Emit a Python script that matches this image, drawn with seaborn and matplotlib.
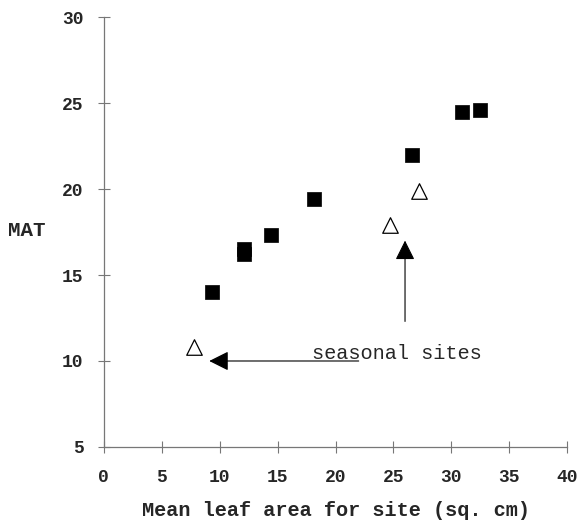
import matplotlib
matplotlib.use("Agg")
import matplotlib.pyplot as plt
import seaborn as sns
import pandas as pd

# Data
sq_x = [9.3, 12.1, 12.1, 14.4, 18.1, 26.6, 30.9, 32.5]
sq_y = [14.0, 16.5, 16.2, 17.3, 19.4, 22.0, 24.5, 24.6]
tri_x = [7.8, 24.7, 27.2]
tri_y = [10.8, 17.9, 19.9]
x_ticks = [0, 5, 10, 15, 20, 25, 30, 35, 40]
y_ticks = [5, 10, 15, 20, 25, 30]

df = pd.DataFrame({
    "x": sq_x + tri_x,
    "y": sq_y + tri_y,
    "group": ["non-seasonal"] * len(sq_x) + ["seasonal"] * len(tri_x),
})

sns.set_style("white")
plt.rcParams["font.family"] = ["Liberation Mono", "DejaVu Sans Mono"]

fig = plt.figure(figsize=(5.77, 5.22), dpi=100)
ax = fig.add_axes([0.180, 0.1437, 0.803, 0.8237])

sns.scatterplot(data=df[df.group == "non-seasonal"], x="x", y="y", marker="s",
                s=105, color="black", edgecolor="black", linewidth=0.5, ax=ax, legend=False)
sns.scatterplot(data=df[df.group == "seasonal"], x="x", y="y", marker="^",
                s=125, facecolor="white", edgecolor="black", linewidth=0.9, ax=ax, legend=False)

ax.set_xlim(0, 40)
ax.set_ylim(5, 30)
ax.set_xticks(x_ticks)
ax.set_yticks(y_ticks)
ax.set_xticklabels([str(t) for t in x_ticks], fontsize=13, fontweight="bold")
ax.set_yticklabels([str(t) for t in y_ticks], fontsize=13, fontweight="bold")
ax.tick_params(axis="both", bottom=True, left=True, direction="inout", length=9,
               width=0.8, color="#777777")
ax.tick_params(axis="x", pad=11)
ax.tick_params(axis="y", pad=10)
for side in ["top", "right"]:
    ax.spines[side].set_visible(False)
for side in ["left", "bottom"]:
    ax.spines[side].set_color("#777777")
    ax.spines[side].set_linewidth(0.9)
ax.set_facecolor("white")

ax.set_xlabel("Mean leaf area for site (sq. cm)", fontsize=14.6, fontweight="bold", labelpad=11)
ax.set_ylabel("")
ax.text(-6.7, 17.6, "MAT", fontsize=15, fontweight="bold", ha="center", va="center")

arrow = dict(arrowstyle="-|>,head_length=1.2,head_width=0.6", color="black", lw=0.8,
             shrinkA=0, shrinkB=0)
ax.annotate("", xy=(26.0, 17.0), xytext=(26.0, 12.3), arrowprops=arrow)
ax.annotate("", xy=(9.1, 10.0), xytext=(22.0, 10.0), arrowprops=arrow)
ax.text(17.95, 10.45, "seasonal sites", fontsize=14.6, ha="left", va="center")

fig.savefig("out.png", dpi=100, facecolor="white")
